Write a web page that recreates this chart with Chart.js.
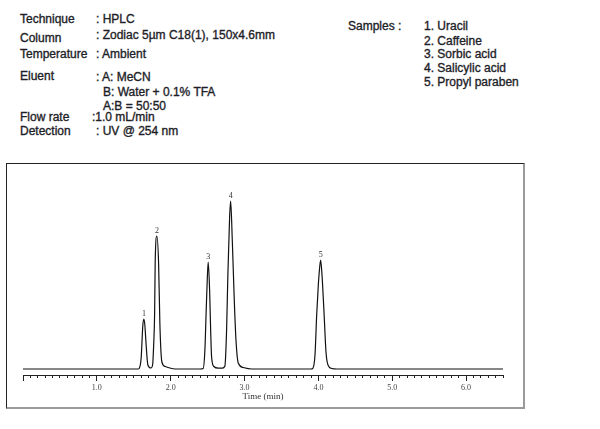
<!DOCTYPE html>
<html>
<head>
<meta charset="utf-8">
<script src="https://cdn.jsdelivr.net/npm/chart.js@4/dist/chart.umd.min.js"></script>
<style>
  html, body { margin: 0; padding: 0; background: #fff; }
  body { width: 600px; height: 429px; position: relative; overflow: hidden;
         font: 12px "Liberation Sans", Arial, sans-serif; color: #1e1e28; }
  .t { position: absolute; line-height: 14px; white-space: nowrap;
       -webkit-text-stroke: 0.35px #1e1e28; }
  #box { position: absolute; left: 6px; top: 163px; width: 519px; height: 246px;
         box-sizing: border-box; border-top: 1px solid #222; border-left: 1px solid #222;
         border-right: 2px solid #9a9a9a; border-bottom: 2px solid #9a9a9a; }
  #chart { position: absolute; left: 0; top: 0; }
</style>
</head>
<body>
<div class="t" style="left:20px;top:12px">Technique</div>
<div class="t" style="left:96px;top:12px">: HPLC</div>
<div class="t" style="left:20px;top:31px">Column</div>
<div class="t" style="left:96px;top:28px">: Zodiac 5µm C18(1), 150x4.6mm</div>
<div class="t" style="left:20px;top:47px">Temperature</div>
<div class="t" style="left:96px;top:47px">: Ambient</div>
<div class="t" style="left:20px;top:69px">Eluent</div>
<div class="t" style="left:96px;top:70px">: A: MeCN</div>
<div class="t" style="left:103px;top:85px">B: Water + 0.1% TFA</div>
<div class="t" style="left:103px;top:99px">A:B = 50:50</div>
<div class="t" style="left:20px;top:110px">Flow rate</div>
<div class="t" style="left:92px;top:110px">:1.0 mL/min</div>
<div class="t" style="left:20px;top:124px">Detection</div>
<div class="t" style="left:96px;top:124px">: UV @ 254 nm</div>

<div class="t" style="left:348px;top:19px">Samples :</div>
<div class="t" style="left:424px;top:19px">1. Uracil</div>
<div class="t" style="left:424px;top:34px">2. Caffeine</div>
<div class="t" style="left:424px;top:47px">3. Sorbic acid</div>
<div class="t" style="left:424px;top:61px">4. Salicylic acid</div>
<div class="t" style="left:424px;top:75px">5. Propyl paraben</div>

<div id="box"></div>
<canvas id="chart" width="600" height="429"></canvas>

<script>
// chromatogram trace: time (min) and detector signal
const traceTimes = [
  0, 1.56, 1.573, 1.600, 1.623, 1.637, 1.650, 1.664, 1.691, 1.732,
  1.755, 1.770, 1.782, 1.790, 1.813, 1.836, 1.854, 1.881, 1.926, 2.057,
  2.40, 2.440, 2.463, 2.481, 2.495, 2.508, 2.527, 2.541, 2.554, 2.585, 2.644, 2.70,
  2.734, 2.757, 2.775, 2.798, 2.812, 2.834, 2.861, 2.884, 2.915, 2.982, 3.096,
  3.90, 3.923, 3.954, 3.977, 3.999, 4.018, 4.031, 4.049, 4.076, 4.103, 4.130, 4.183, 4.25,
  6.5
]
const traceSignal = [
  0, 0, 0.5, 11, 44, 50, 44, 28, 4, 1,
  4, 25, 54, 106, 133, 106, 44, 7, 2.5, 0,
  0, 0.5, 19, 59, 89, 107, 79, 39, 12, 2.5, 0.8, 0.8,
  3, 39, 96, 152, 168, 129, 69, 29, 6, 1.5, 0,
  0, 0.5, 14, 54, 84, 102, 109, 94, 57, 17, 4, 0.5, 0,
  0
]

// peak numbers and where their apexes sit
const peakLabels = ['1', '2', '3', '4', '5']
const peakTimes = [1.637, 1.813, 2.508, 2.812, 4.031]
const peakHeights = [50, 133, 107, 168, 109]

const serif = '"Liberation Serif", "Times New Roman", serif'

const isWhole = v => Math.abs(v - Math.round(v)) < 1e-6

const peakNumbers = {
  id: 'peakNumbers',
  afterDatasetsDraw(chart) {
    const { ctx, scales: { x, y } } = chart
    ctx.save()
    ctx.font = '8px ' + serif
    ctx.fillStyle = '#333'
    ctx.textAlign = 'center'
    ctx.textBaseline = 'bottom'
    peakLabels.forEach((label, i) => {
      ctx.fillText(label, x.getPixelForValue(peakTimes[i]), y.getPixelForValue(peakHeights[i]) - 1)
    })
    ctx.restore()
  }
}

new Chart(document.getElementById('chart'), {
  type: 'line',
  data: {
    datasets: [{
      data: traceTimes.map((t, i) => ({ x: t, y: traceSignal[i] })),
      borderColor: '#111',
      borderWidth: 1.2,
      pointRadius: 0,
      cubicInterpolationMode: 'monotone',
      fill: false
    }]
  },
  options: {
    responsive: false,
    animation: false,
    events: [],
    layout: { padding: { left: 23, right: 97, top: 169, bottom: 27 } },
    scales: {
      x: {
        type: 'linear',
        min: 0,
        max: 6.5,
        afterFit: scale => { scale.height = 27 },
        border: { display: true, color: '#222', width: 1 },
        grid: {
          drawOnChartArea: false,
          drawTicks: true,
          tickLength: 6,
          tickColor: '#222',
          tickBorderDash: ctx => (isWhole(ctx.tick.value) ? [] : [2, 10])
        },
        ticks: {
          stepSize: 0.1,
          autoSkip: false,
          maxRotation: 0,
          padding: 2,
          color: '#444',
          font: { family: serif, size: 8 },
          callback: v => (isWhole(v) && v > 0 ? v.toFixed(1) : '')
        },
        title: {
          display: true,
          text: 'Time (min)',
          color: '#333',
          font: { family: serif, size: 9 },
          padding: { top: 0, bottom: 0 }
        }
      },
      y: {
        type: 'linear',
        display: false,
        min: -6,
        max: 200
      }
    },
    plugins: {
      legend: { display: false },
      tooltip: { enabled: false }
    }
  },
  plugins: [peakNumbers]
})
</script>
</body>
</html>
